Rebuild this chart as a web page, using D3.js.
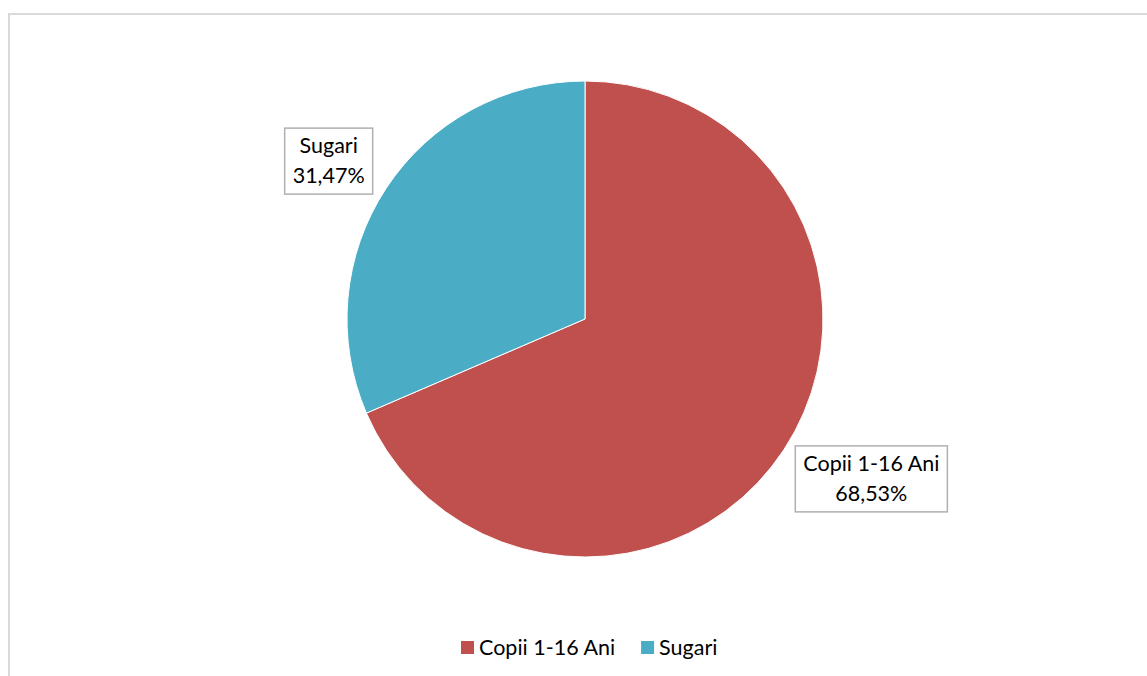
<!DOCTYPE html>
<html><head><meta charset="utf-8">
<script src="https://cdn.jsdelivr.net/npm/d3@7"></script>
<style>body{margin:0;background:#fff}svg{display:block}text{font-family:Lato,"Open Sans",sans-serif;fill:#000}</style>
</head><body>
<script>
const categories = ["Copii 1-16 Ani", "Sugari"];
const values = [68.53, 31.47];
const valueLabels = ["68,53%", "31,47%"];
const colors = ["#C0504D", "#4BACC6"];

const W = 1147, H = 676;
const svg = d3.select("body").append("svg").attr("width", W).attr("height", H);
svg.append("rect").attr("x", 9).attr("y", 14).attr("width", W).attr("height", H)
  .attr("fill", "none").attr("stroke", "#d9d9d9").attr("stroke-width", 2);

const cx = 585, cy = 319, R = 238;
const pie = d3.pie().sort(null).value(d => d)(values);
const arc = d3.arc().innerRadius(0).outerRadius(R);
const g = svg.append("g").attr("transform", `translate(${cx},${cy})`);
g.selectAll("path").data(pie).join("path")
  .attr("d", arc).attr("fill", (d, i) => colors[i])
  .attr("stroke", "#fff").attr("stroke-width", 1);

const fs = 21.5, lh = 30;
const nudges = [[10, -22], [20, 24]];
pie.forEach((d, i) => {
  const a = (d.startAngle + d.endAngle) / 2;
  const r = R * 1.39;
  const x = Math.sin(a) * r + nudges[i][0];
  const y = -Math.cos(a) * r + nudges[i][1];
  const lg = g.append("g").attr("transform", `translate(${x},${y})`);
  const t1 = lg.append("text").attr("text-anchor", "middle").attr("y", -lh / 2 + 7).attr("font-size", fs).text(categories[i]);
  const t2 = lg.append("text").attr("text-anchor", "middle").attr("y", lh / 2 + 7).attr("font-size", fs).text(valueLabels[i]);
  const w = Math.max(t1.node().getComputedTextLength(), t2.node().getComputedTextLength()) + 16;
  lg.insert("rect", "text").attr("x", -w / 2).attr("y", -33).attr("width", w).attr("height", 66)
    .attr("fill", "#fff").attr("stroke", "#b0b0b0").attr("stroke-width", 1.5);
});

// legend
const legend = svg.append("g");
let lx = 461;
categories.forEach((c, i) => {
  legend.append("rect").attr("x", lx).attr("y", 641).attr("width", 13).attr("height", 13).attr("fill", colors[i]);
  const t = legend.append("text").attr("x", lx + 18).attr("y", 655).attr("font-size", fs).text(c);
  lx += 18 + t.node().getComputedTextLength() + 26;
});
</script>
</body></html>
